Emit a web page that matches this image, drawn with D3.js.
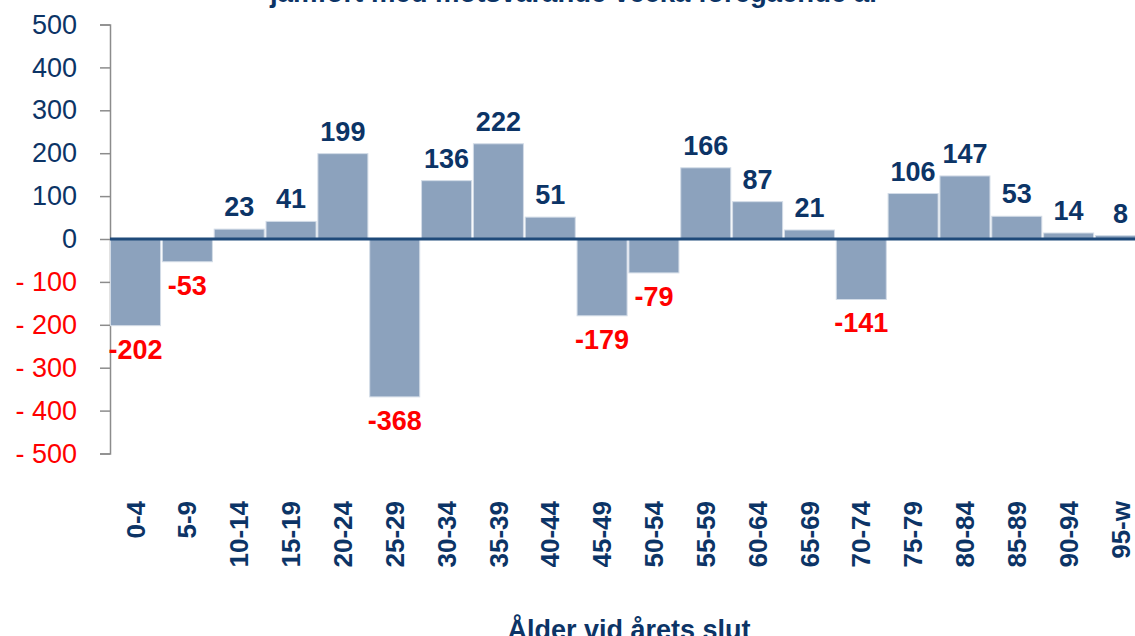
<!DOCTYPE html>
<html><head><meta charset="utf-8">
<script src="https://cdn.jsdelivr.net/npm/d3@7"></script>
<style>body{margin:0;background:#fff;overflow:hidden}svg{display:block}text{font-family:"Liberation Sans",Arial,sans-serif}</style>
</head><body>
<svg id="c" width="1135" height="636"></svg>
<script>
const categories = ["0-4","5-9","10-14","15-19","20-24","25-29","30-34","35-39","40-44","45-49","50-54","55-59","60-64","65-69","70-74","75-79","80-84","85-89","90-94","95-w"];
const values = [-202,-53,23,41,199,-368,136,222,51,-179,-79,166,87,21,-141,106,147,53,14,8];
const yTicks = [500,400,300,200,100,0,-100,-200,-300,-400,-500];
const titleText = "jämfört med motsvarande vecka föregående år";
const xTitle = "Ålder vid årets slut";

const navy = "#0c3466", red = "#ff0000", barFill = "#8ca2bd", barStroke = "#d3dce7";
const svg = d3.select("#c");
const x = d3.scaleBand().domain(categories).range([110, 110 + 20 * 51.8]).paddingInner(0.035).paddingOuter(0.01);
const y = d3.scaleLinear().domain([-500, 500]).range([453.5, 24.5]);

svg.append("text").attr("x", 575).attr("y", 2).attr("text-anchor", "middle")
  .attr("font-size", 27.5).attr("font-weight", "bold").attr("fill", navy).text(titleText);

// y axis
const ya = svg.append("g").attr("transform", "translate(110,0)")
  .call(d3.axisLeft(y).tickValues(yTicks).tickSize(10).tickPadding(23)
    .tickFormat(d => d < 0 ? "- " + Math.abs(d) : String(d)));
ya.select(".domain").attr("stroke", "#8c8c8c").attr("stroke-width", 1.5);
ya.selectAll(".tick line").attr("stroke", "#8c8c8c").attr("stroke-width", 1.5);
ya.selectAll(".tick text").attr("font-size", 27).attr("font-family", "Liberation Sans, Arial, sans-serif")
  .attr("fill", d => d < 0 ? red : navy);

// bars
svg.append("g").selectAll("rect").data(values).join("rect")
  .attr("x", (d, i) => x(categories[i]))
  .attr("width", x.bandwidth())
  .attr("y", d => y(Math.max(0, d)))
  .attr("height", d => Math.abs(y(d) - y(0)))
  .attr("fill", barFill).attr("stroke", barStroke).attr("stroke-width", 1);

// zero line
svg.append("line").attr("x1", 110).attr("x2", 1135).attr("y1", y(0)).attr("y2", y(0))
  .attr("stroke", "#1f4a7a").attr("stroke-width", 3);

// value labels
svg.append("g").selectAll("text").data(values).join("text")
  .attr("x", (d, i) => x(categories[i]) + x.bandwidth() / 2)
  .attr("y", d => d >= 0 ? y(d) - 13 : y(d) + 33)
  .attr("text-anchor", "middle").attr("font-size", 27).attr("font-weight", "bold")
  .attr("fill", d => d < 0 ? red : navy).text(d => d);

// x axis labels
const xa = svg.append("g").attr("transform", "translate(0,501)")
  .call(d3.axisBottom(x).tickSize(0).tickPadding(0));
xa.select(".domain").remove();
xa.selectAll(".tick text").attr("transform", "rotate(-90)").attr("text-anchor", "end")
  .attr("x", 0).attr("y", 0).attr("dy", "0.35em").attr("dx", 0)
  .attr("font-size", 26).attr("font-weight", "bold").attr("font-family", "Liberation Sans, Arial, sans-serif").attr("fill", navy);

svg.append("text").attr("x", 629).attr("y", 639).attr("text-anchor", "middle")
  .attr("font-size", 27).attr("font-weight", "bold").attr("fill", navy).text(xTitle);
</script>
</body></html>
